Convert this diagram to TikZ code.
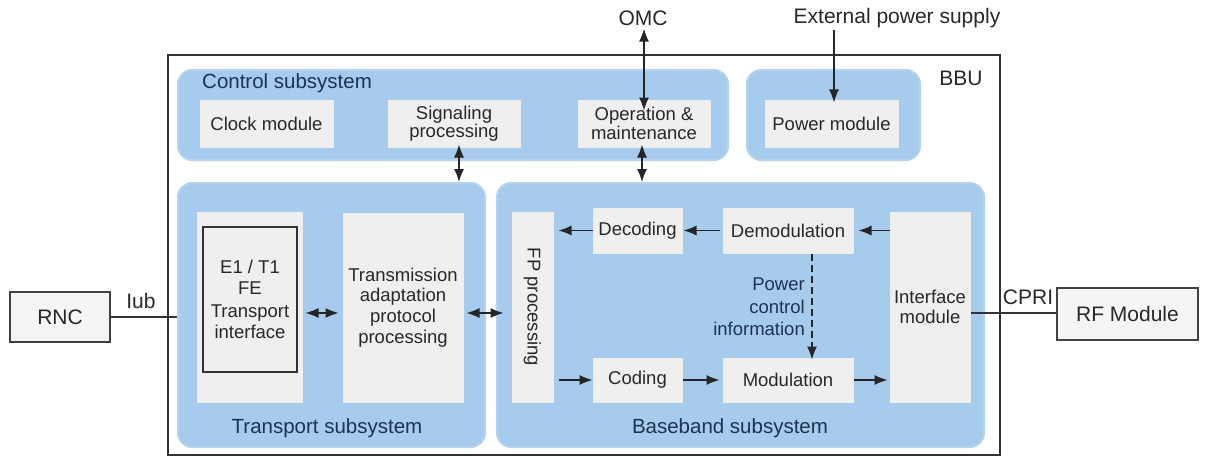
\documentclass[tikz,border=0pt]{standalone}
\usepackage{fontspec}
\setmainfont{Liberation Sans}
\usetikzlibrary{arrows.meta}
\definecolor{panel}{RGB}{166,203,236}
\definecolor{cell}{RGB}{240,239,237}
\definecolor{navy}{RGB}{28,52,82}
\definecolor{ink}{RGB}{40,40,40}
\tikzset{
  panelbox/.style={fill=panel, rounded corners=14pt, draw=panel!85!white, line width=2pt},
  cellbox/.style={fill=cell, draw=cell!92!panel, line width=1pt, inner sep=0pt, align=center,
     text=ink, font=\fontsize{18.5}{20}\selectfont},
  framebox/.style={draw=black!80, line width=1.6pt, fill=cell, inner sep=0pt, align=center,
     text=ink, font=\fontsize{18.5}{20.5}\selectfont},
  outerbox/.style={draw=black!75, line width=1.6pt, fill=cell!60!white, inner sep=0pt,
     font=\fontsize{21}{23}\selectfont, text=ink},
  sublabel/.style={text=navy, font=\fontsize{20.5}{22}\selectfont, inner sep=0pt},
  extlabel/.style={text=ink, font=\fontsize{21}{23}\selectfont, inner sep=0pt},
  flow/.style={-{Latex[length=13pt,width=10pt]}, line width=1.4pt, draw=black!85},
  biflow/.style={{Latex[length=13pt,width=10pt]}-{Latex[length=13pt,width=10pt]}, line width=1.4pt, draw=black!85},
  wire/.style={line width=1.5pt, draw=black!80}
}
\begin{document}
\begin{tikzpicture}[x=1pt,y=-1pt]
\useasboundingbox (0,0) rectangle (1208,460);

% BBU enclosure
\node[draw=black!80, line width=1.6pt, minimum width=832pt, minimum height=400pt, inner sep=0pt] (bbu) at (584,255) {};
\node[extlabel] (bbulabel) at (961,78) {BBU};

% subsystem panels
\node[panelbox, minimum width=550pt, minimum height=90pt] (ctrl) at (453,115) {};
\node[panelbox, minimum width=173pt, minimum height=90pt] (pwr) at (833.5,115) {};
\node[panelbox, minimum width=307pt, minimum height=264pt] (trans) at (331.5,315) {};
\node[panelbox, minimum width=487pt, minimum height=264pt] (base) at (740.5,315) {};

\node[sublabel, anchor=west] (ctrllabel) at (202,83) {Control subsystem};
\node[sublabel] (translabel) at (327,428) {Transport subsystem};
\node[sublabel] (baselabel) at (730,428) {Baseband subsystem};

% control subsystem modules
\node[cellbox, minimum width=133pt, minimum height=47pt] (clock) at (266.5,123.5) {Clock module};
\node[cellbox, minimum width=132pt, minimum height=47pt, font=\fontsize{18.5}{18.5}\selectfont] (sig) at (454,123.5) {Signaling\\processing};
\node[cellbox, minimum width=132pt, minimum height=47pt, font=\fontsize{18.5}{18.5}\selectfont] (om) at (644,123.5) {Operation \&\\maintenance};
\node[cellbox, minimum width=133pt, minimum height=47pt] (pm) at (831.5,123.5) {Power module};

% transport subsystem modules
\node[cellbox, minimum width=105pt, minimum height=190pt] (e1cell) at (249.5,307) {};
\node[framebox, minimum width=94pt, minimum height=145pt] (e1) at (250,299.5) {E1 / T1\\FE\\[3pt]Transport\\interface};
\node[cellbox, minimum width=120pt, minimum height=189pt, font=\fontsize{18.5}{20.7}\selectfont] (tx) at (403,307.5) {Transmission\\adaptation\\protocol\\processing};

% baseband subsystem modules
\node[cellbox, minimum width=41pt, minimum height=190pt] (fp) at (532.5,307) {};
\node[rotate=-90, text=ink, font=\fontsize{18.5}{20}\selectfont, inner sep=0pt] (fptext) at (fp.center) {FP processing};
\node[cellbox, minimum width=89pt, minimum height=45pt] (dec) at (637.5,230.5) {Decoding};
\node[cellbox, minimum width=130pt, minimum height=45pt] (dem) at (788,230.5) {Demodulation};
\node[cellbox, minimum width=89pt, minimum height=44pt] (cod) at (637.5,380) {Coding};
\node[cellbox, minimum width=130pt, minimum height=44pt] (mod) at (788,380) {Modulation};
\node[cellbox, minimum width=80pt, minimum height=190pt] (ifm) at (930,307) {Interface\\module};

% external equipment
\node[outerbox, minimum width=100pt, minimum height=50pt] (rnc) at (60,317) {RNC};
\node[outerbox, minimum width=141pt, minimum height=52pt] (rf) at (1127.5,314) {RF Module};
\node[extlabel] (omc) at (643,18) {OMC};
\node[extlabel] (ext) at (897,18) {External power supply};

% reference rows
\coordinate (trow) at (0,313);
\coordinate (dash) at (812,0);

% interfaces to the outside
\draw[wire] (rnc.east |- trow) ++(0,4) coordinate (rncport) -- (trans.west |- rncport);
\node[extlabel, anchor=south] (iub) at (141,309) {Iub};
\draw[wire] (ifm.east |- trow) -- (rf.west |- trow);
\node[extlabel, anchor=south] (cpri) at (1028,305) {CPRI};

\draw[biflow] ([yshift=-3pt]omc.south -| om.north) -- ([yshift=-11pt]om.north);
\draw[flow] ([yshift=-2pt]ext.south -| pm.north) ++(2.5,0) coordinate (pwrtop) -- ([yshift=-3pt]pm.north -| pwrtop);

% control to data subsystems
\draw[biflow] ([yshift=3pt]sig.south) ++(5,0) coordinate (sigdown) -- (trans.north -| sigdown);
\draw[biflow] ([yshift=3pt]om.south) ++(-2,0) coordinate (omdown) -- (base.north -| omdown);

% transport chain
\draw[biflow] ([xshift=3pt]e1cell.east |- trow) -- ([xshift=-4pt]tx.west |- trow);
\draw[biflow] ([xshift=3pt]tx.east |- trow) -- ([xshift=-8pt]fp.west |- trow);

% uplink
\draw[flow] (ifm.west |- dem.east) -- ([xshift=5pt]dem.east);
\draw[flow] ([xshift=-3pt]dem.west) -- ([xshift=1pt]dec.east);
\draw[flow] (dec.west) -- ([xshift=5pt]fp.east |- dec.west);

% downlink
\draw[flow] ([xshift=5pt]fp.east |- cod.west) -- (cod.west);
\draw[flow] (cod.east) -- ([xshift=-3pt]mod.west);
\draw[flow] (mod.east) -- ([xshift=-2pt]ifm.west |- mod.east);

% power control loop
\draw[flow, dash pattern=on 7pt off 4pt] (dem.south -| dash) -- ([yshift=-2pt]mod.north -| dash);
\node[text=navy, align=right, anchor=east, inner sep=0pt, font=\fontsize{18.5}{22.5}\selectfont] (pci) at (805,307) {Power\\control\\information};
\end{tikzpicture}
\end{document}
